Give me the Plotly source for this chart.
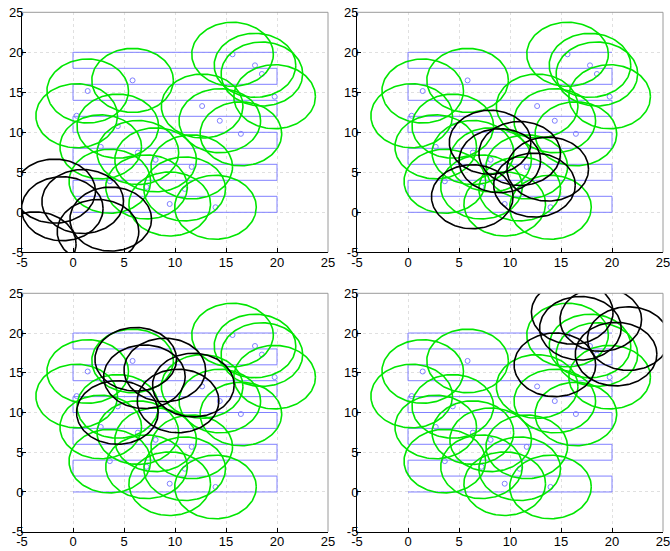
import numpy as np
import plotly.graph_objects as go

# ---- data ----
path_x = [0, 20, 20, 0, 0, 20, 20, 0, 0, 20, 20, 0, 0, 20, 20, 0, 0, 20, 20, 0, 0, 20]
path_y = [0, 0, 2, 2, 4, 4, 6, 6, 8, 8, 10, 10, 12, 12, 14, 14, 16, 16, 18, 18, 20, 20]

pts_x = [15.64, 17.84, 18.52, 19.77, 5.84, 1.44, 12.66, 14.39, 16.46, 0.36,
         4.39, 2.72, 6.36, 8.10, 11.64, 3.61, 7.21, 10.95, 9.48, 13.97]
pts_y = [19.75, 18.37, 17.29, 14.45, 16.49, 15.16, 13.28, 11.44, 9.81, 12.07,
         10.77, 8.18, 7.47, 6.56, 5.68, 3.88, 3.17, 2.92, 1.04, 0.63]

radius = 4

black1_x = [-1.8, 0.95, -1.05, 3.7, 2.45, -3.7]
black1_y = [2.65, 1.35, 0.45, -0.85, -2.4, -3.95]
black2_x = [8.05, 10.95, 9.0, 13.7, 12.4, 6.3]
black2_y = [8.75, 7.35, 6.45, 5.4, 3.4, 1.95]
black3_x = [6.15, 9.0, 7.0, 11.8, 10.3, 4.35]
black3_y = [16.7, 15.35, 14.5, 13.45, 11.45, 10.0]
black4_x = [16.1, 16.9, 18.9, 21.6, 20.4, 14.4]
black4_y = [22.6, 20.6, 21.7, 19.3, 17.35, 16.0]

tick_vals = [-5, 0, 5, 10, 15, 20, 25]
tick_text = ["-5", "0", "5", "10", "15", "20", "25"]

black_sets = [(black1_x, black1_y), (black2_x, black2_y),
              (black3_x, black3_y), (black4_x, black4_y)]

# ---- helpers ----
theta = np.linspace(0, 2 * np.pi, 145)


def circles(cx, cy, r):
    xs, ys = [], []
    for x0, y0 in zip(cx, cy):
        xs += list(x0 + r * np.cos(theta)) + [None]
        ys += list(y0 + r * np.sin(theta)) + [None]
    return xs, ys


W, H = 670, 551
xdoms = [[22 / W, 328 / W], [357 / W, 663 / W]]
ydoms = [[1 - 252.3 / H, 1 - 12.3 / H], [1 - 531.7 / H, 1 - 293.3 / H]]

fig = go.Figure()
shapes = []
layout_axes = {}
for i in range(4):
    row, col = divmod(i, 2)
    n = "" if i == 0 else str(i + 1)
    xa, ya = "x" + n, "y" + n
    gx, gy = circles(pts_x, pts_y, radius)
    bx, by = circles(black_sets[i][0], black_sets[i][1], radius)
    fig.add_trace(go.Scatter(x=path_x, y=path_y, mode="lines",
                             line=dict(color="#8080ff", width=1),
                             xaxis=xa, yaxis=ya, showlegend=False, hoverinfo="skip"))
    fig.add_trace(go.Scatter(x=pts_x, y=pts_y, mode="markers",
                             marker=dict(symbol="circle-open", size=5, color="#8080ff",
                                         line=dict(width=1)),
                             xaxis=xa, yaxis=ya, showlegend=False))
    fig.add_trace(go.Scatter(x=gx, y=gy, mode="lines",
                             line=dict(color="#00e600", width=1.6),
                             xaxis=xa, yaxis=ya, showlegend=False, hoverinfo="skip"))
    fig.add_trace(go.Scatter(x=bx, y=by, mode="lines",
                             line=dict(color="black", width=1.6),
                             xaxis=xa, yaxis=ya, showlegend=False, hoverinfo="skip"))
    common = dict(range=[-5, 25], tickvals=tick_vals, ticktext=tick_text,
                  showgrid=True, gridcolor="#e0e0e0", griddash="dot", gridwidth=1,
                  zeroline=False, showline=True, linecolor="black", linewidth=1,
                  ticks="inside", ticklen=4, tickcolor="black", automargin=False,
                  ticklabeloverflow="allow",
                  tickfont=dict(family="Liberation Sans, Arial", size=13, color="black"))
    layout_axes["xaxis" + n] = dict(domain=xdoms[col], anchor=ya,
                                    ticklabelstandoff=-2, **common)
    layout_axes["yaxis" + n] = dict(domain=ydoms[row], anchor=xa,
                                    ticklabelstandoff=-5, **common)
    # top and right frame lines
    shapes.append(dict(type="line", xref=xa + " domain", yref=ya + " domain",
                       x0=0, x1=1, y0=1, y1=1, line=dict(color="#9a9a9a", width=1)))
    shapes.append(dict(type="line", xref=xa + " domain", yref=ya + " domain",
                       x0=1, x1=1, y0=0, y1=1, line=dict(color="#9a9a9a", width=1)))

fig.update_layout(width=W, height=H, margin=dict(l=0, r=0, t=0, b=0, autoexpand=False),
                  plot_bgcolor="white", paper_bgcolor="white",
                  shapes=shapes, **layout_axes)

fig.write_html("out.html", config={"displayModeBar": False},
               post_script="document.body.style.margin='0px';"
                           "document.body.style.overflow='hidden';")
